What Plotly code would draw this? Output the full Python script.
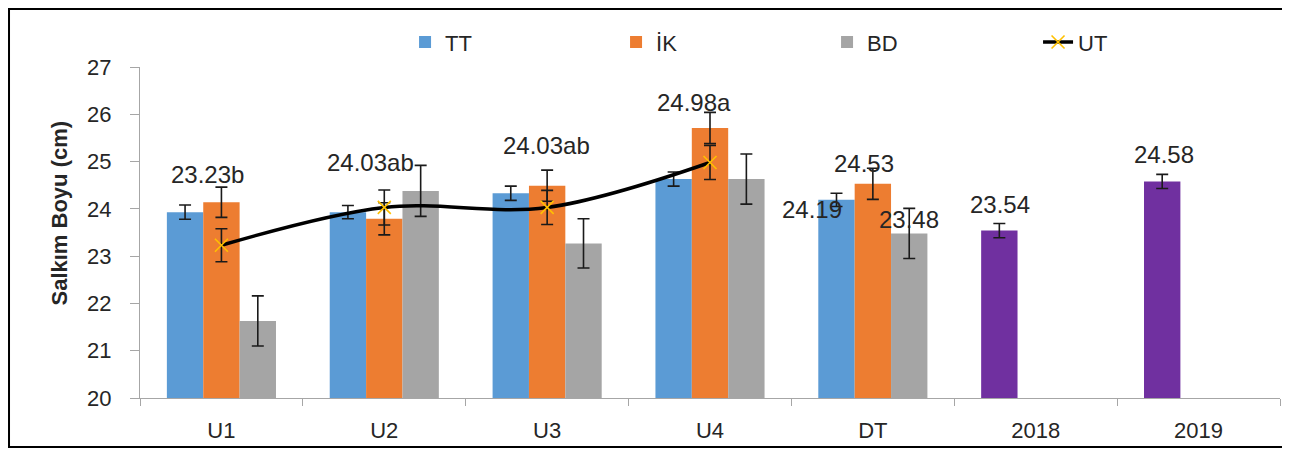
import plotly.graph_objects as go

# ---- data ----
categories = ["U1", "U2", "U3", "U4", "DT", "2018", "2019"]

tt = [23.93, 23.93, 24.33, 24.63, 24.19, None, None]
tt_err = [0.15, 0.14, 0.15, 0.15, 0.14, 0, 0]

ik = [24.14, 23.79, 24.49, 25.71, 24.53, None, None]
ik_err = [0.32, 0.34, 0.33, 0.33, 0.33, 0, 0]

bd = [21.63, 24.38, 23.27, 24.63, 23.48, None, None]
bd_err = [0.53, 0.54, 0.52, 0.53, 0.53, 0, 0]

years = [None, None, None, None, None, 23.54, 24.58]
years_err = [0, 0, 0, 0, 0, 0.15, 0.15]

ut_cats = ["U1", "U2", "U3", "U4"]
ut = [23.23, 24.03, 24.03, 24.98]
ut_err = [0.35, 0.37, 0.36, 0.36]
ut_letters = ["b", "ab", "ab", "a"]

dt_labels = ["24.19", "24.53", "23.48"]
year_labels = ["23.54", "24.58"]

# ---- label placement (layout only) ----
ut_label_y = [24.72, 24.97, 25.35, 26.24]
ut_label_dx = [-14, -14, -1, -16]
dt_label_y = [23.98, 24.96, 23.78]
dt_label_dx = [-61, -9, 36]
year_label_y = [24.10, 25.14]
year_label_dx = [-36, -35]

FONT = "Liberation Sans"
TXT = "#262626"
AX = "#A6A6A6"

err_style = dict(type="data", visible=True, color="#1a1a1a", thickness=1.6, width=6)

fig = go.Figure()
fig.add_trace(go.Bar(name="TT", x=categories, y=tt, offsetgroup="a",
                     marker=dict(color="#5B9BD5", line=dict(width=0)),
                     error_y=dict(array=tt_err, **err_style)))
fig.add_trace(go.Bar(name="İK", x=categories, y=ik, offsetgroup="b",
                     marker=dict(color="#ED7D31", line=dict(width=0)),
                     error_y=dict(array=ik_err, **err_style)))
fig.add_trace(go.Bar(name="BD", x=categories, y=bd, offsetgroup="c",
                     marker=dict(color="#A5A5A5", line=dict(width=0)),
                     error_y=dict(array=bd_err, **err_style)))
fig.add_trace(go.Bar(name="Yıl", x=categories, y=years, offsetgroup="a", showlegend=False,
                     marker=dict(color="#7030A0", line=dict(width=0)),
                     error_y=dict(array=years_err, **err_style)))
fig.add_trace(go.Scatter(name="UT", x=ut_cats, y=ut, mode="lines+markers",
                         line=dict(color="black", width=3.5, shape="spline", smoothing=1),
                         marker=dict(symbol="x-thin", size=13, color="#FFC000",
                                     line=dict(color="#FFC000", width=1.6)),
                         error_y=dict(array=ut_err, **err_style)))

annotations = []
lab_font = dict(size=24, color=TXT, family=FONT)
for c, v, s, y, dx in zip(ut_cats, ut, ut_letters, ut_label_y, ut_label_dx):
    annotations.append(dict(x=categories.index(c), y=y, xref="x", yref="y", text=f"{v:.2f}{s}",
                            showarrow=False, xshift=dx, font=lab_font))
for t, y, dx in zip(dt_labels, dt_label_y, dt_label_dx):
    annotations.append(dict(x=categories.index("DT"), y=y, xref="x", yref="y", text=t,
                            showarrow=False, xshift=dx, font=lab_font))
for c, t, y, dx in zip(categories[5:], year_labels, year_label_y, year_label_dx):
    annotations.append(dict(x=categories.index(c), y=y, xref="x", yref="y", text=t,
                            showarrow=False, xshift=dx, font=lab_font))
# y-axis title
annotations.append(dict(x=-0.0833, y=0.559, xref="paper", yref="paper", textangle=-90,
                        text="<b>Salkım Boyu (cm)</b>", showarrow=False,
                        font=dict(size=22, family=FONT, color=TXT)))

fig.update_layout(
    width=1282, height=442,
    margin=dict(l=132, r=10, t=59, b=52, autoexpand=False),
    paper_bgcolor="white", plot_bgcolor="white",
    font=dict(family=FONT, color=TXT, size=22),
    barmode="group", bargap=0.33, bargroupgap=0,
    showlegend=True,
    legend=dict(orientation="h", x=0.2325, xanchor="left", y=1.075, yanchor="middle",
                entrywidth=166, entrywidthmode="pixels",
                font=dict(size=22, family=FONT, color=TXT), bgcolor="rgba(0,0,0,0)",
                traceorder="normal"),
    annotations=annotations,
    shapes=[dict(type="rect", xref="paper", yref="paper",
                 x0=-0.1149, x1=1.0068, y0=-0.148, y1=1.175,
                 line=dict(color="black", width=2), fillcolor="rgba(0,0,0,0)", layer="below")],
)

fig.update_xaxes(type="category", categoryorder="array", categoryarray=categories,
                 range=[-0.5, len(categories) - 0.5],
                 showline=True, linecolor=AX, linewidth=1.3,
                 ticks="outside", tickson="boundaries", ticklen=7, tickcolor=AX, tickwidth=1.3,
                 showgrid=False, zeroline=False, ticklabelstandoff=12,
                 tickfont=dict(size=22, family=FONT, color=TXT))
fig.update_yaxes(range=[20, 27], dtick=1, tick0=20,
                 showline=True, linecolor=AX, linewidth=1.3,
                 ticks="outside", ticklen=9, tickcolor=AX, tickwidth=1.3,
                 showgrid=False, zeroline=False, ticklabelstandoff=14,
                 tickfont=dict(size=22, family=FONT, color=TXT))

fig.write_html("out.html")
